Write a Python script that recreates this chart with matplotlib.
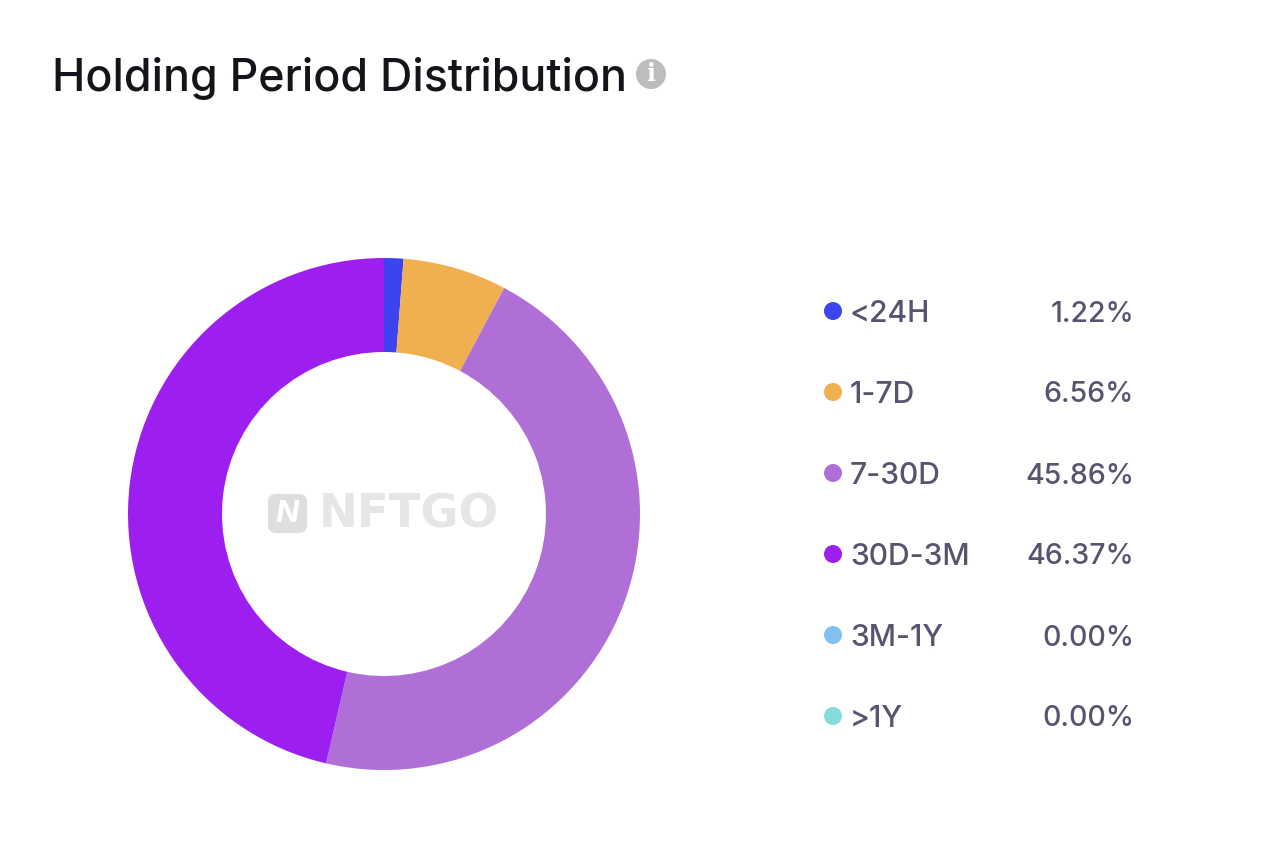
import matplotlib
matplotlib.use("Agg")
import matplotlib.pyplot as plt
from matplotlib.patches import FancyBboxPatch, Circle

labels = ["<24H", "1-7D", "7-30D", "30D-3M", "3M-1Y", ">1Y"]
values = [1.22, 6.56, 45.86, 46.37, 0.00, 0.00]
pct_labels = ["1.22%", "6.56%", "45.86%", "46.37%", "0.00%", "0.00%"]
colors = ["#3d43ef", "#f0b04f", "#b06fd6", "#9d1ff0", "#82c0f0", "#84dbdc"]

W, H = 1271, 846
plt.rcParams["font.family"] = ["Inter", "DejaVu Sans"]

fig = plt.figure(figsize=(W / 100, H / 100), dpi=100)

# overlay in pixel coords for the text bits
ov = fig.add_axes([0, 0, 1, 1])
ov.set_xlim(0, W)
ov.set_ylim(H, 0)
ov.axis("off")

# donut
cx, cy, r = 384, 514, 256
ax = fig.add_axes([(cx - r) / W, 1 - (cy + r) / H, 2 * r / W, 2 * r / H])
ax.pie(values, colors=colors, startangle=90, counterclock=False, radius=1,
       wedgeprops={"width": 94 / 256, "linewidth": 0})
ax.set_xlim(-1, 1)
ax.set_ylim(-1, 1)
ax.patch.set_alpha(0)

ov.text(52, 78, "Holding Period Distribution", fontsize=32.2, color="#14151a",
        va="center", ha="left", fontweight="medium")
ov.add_patch(Circle((651, 74), 15, color="#bdbdbd", lw=0))
ov.text(651, 74, "i", fontsize=17, color="white", fontweight="bold",
        ha="center", va="center", family="DejaVu Serif")

# legend rows
row_y = [314, 395, 476, 557, 638, 719]
for label, pct, color, y in zip(labels, pct_labels, colors, row_y):
    ov.add_patch(Circle((833, y - 3), 9, color=color, lw=0))
    ov.text(850, y, label, fontsize=21.6, color="#55556f", va="center", ha="left",
            fontweight="medium")
    ov.text(1134, y, pct, fontsize=20.5, color="#55556f", va="center", ha="right",
            fontweight="medium")

# watermark
ov.add_patch(FancyBboxPatch((270, 496), 35, 35, boxstyle="round,pad=0,rounding_size=6",
                            fc="#dedede", ec="#dedede", lw=3, zorder=5))
ov.text(287.5, 514, "N", fontsize=22, color="white", fontweight="bold", style="italic",
        ha="center", va="center", zorder=6)
ov.text(319, 515, "NFTGO", fontsize=33.5, color="#e6e6e6", fontweight="bold",
        ha="left", va="center", zorder=6, family="DejaVu Sans")
ov.set_zorder(3)

fig.savefig("out.png", dpi=100)
